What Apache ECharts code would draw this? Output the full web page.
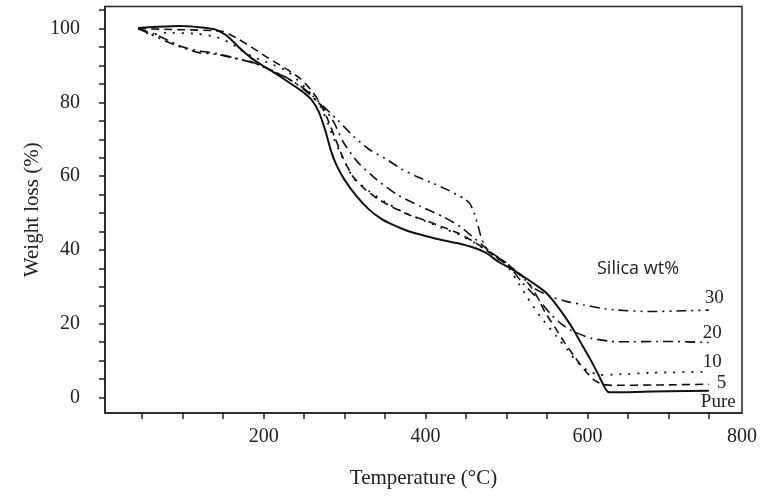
<!DOCTYPE html>
<html>
<head>
<meta charset="utf-8">
<script src="https://cdn.jsdelivr.net/npm/echarts@6/dist/echarts.min.js"></script>
<style>html,body{margin:0;padding:0;background:#fff}#c{width:763px;height:500px}</style>
</head>
<body>
<div id="c"></div>
<script>
// Temperature (°C) vs weight (%)
const pure = [[45,100.2],[70,100.5],[95,100.7],[120,100.4],[140,99.8],[155,98],[170,94.8],[185,92],[200,89.8],[215,87.8],[230,85.6],[245,83.4],[258,81],[268,77.5],[276,72.5],[283,67],[290,63],[300,59],[315,54.5],[330,51],[345,48.5],[360,46.8],[380,45],[400,43.8],[420,42.7],[440,41.8],[460,40.6],[475,39.2],[490,36.8],[505,35],[521,32.8],[537,30.4],[549,28.4],[560,25.6],[572,22],[583,18.3],[594,14],[604,10.2],[614,6],[620,3.3],[625,1.6],[632,1.4],[660,1.5],[700,1.7],[750,1.8]];
const silica5 = [[45,100],[100,99.7],[150,99.2],[170,97],[185,95],[200,92.8],[215,90.8],[230,88.8],[245,86.5],[258,83.5],[268,80.5],[278,76],[288,70.5],[298,65],[310,60],[325,56.5],[340,54],[360,51.5],[380,49.5],[400,48],[420,46.3],[440,44.6],[460,42.2],[475,40],[490,37.5],[505,35.5],[520,32.8],[535,28.5],[548,23],[560,19],[572,14.8],[585,10.8],[597,7.3],[608,4.8],[618,3.6],[630,3.3],[690,3.4],[750,3.6]];
const silica10 = [[45,100],[62,98.4],[80,98.9],[118,98.6],[142,97.7],[160,96],[171,94.3],[185,92.5],[200,91.2],[229,88.5],[254,83.4],[270,78.9],[280,74],[287,70],[299,64.4],[311,59.5],[330,56],[350,53],[375,50],[400,47.8],[420,46],[440,44.3],[460,42],[478,39.5],[490,37.8],[500,36],[512,32],[525,27.4],[542,21.9],[562,16.5],[575,13],[587,9.7],[600,7.3],[616,6.1],[640,6.3],[680,6.7],[750,7.0]];
const silica20 = [[45,100],[65,98.5],[85,96.5],[100,95],[120,94],[143,93.2],[165,92],[190,90.5],[210,88.7],[230,86.5],[250,83.5],[265,80.5],[278,77.5],[287,74.5],[299,69],[317,63.6],[340,59],[365,55],[394,51.8],[422,49],[443,46.3],[458,43.6],[470,41.4],[485,38.5],[500,36.5],[520,31],[540,26.5],[555,22.5],[567,20.1],[579,18.3],[604,16.1],[637,15.1],[700,15.2],[750,14.9]];
const silica30 = [[45,100],[60,98.5],[80,96.5],[100,94.8],[120,93.5],[143,93],[163,92],[185,91],[205,89],[225,87],[245,84.5],[262,81.5],[274,78.9],[291,75.3],[311,70.8],[330,67.3],[353,64.4],[370,62],[389,59.9],[410,58],[427,56.3],[447,54],[455,52.5],[460,50],[464,47.3],[468,44],[472,41.5],[478,39.8],[490,38],[505,35.5],[520,32.5],[535,29.5],[554,27.4],[575,26],[596,25.1],[617,24.2],[637,23.7],[678,23.3],[719,23.5],[750,23.7]];

const seriesNames = ['Pure', '5', '10', '20', '30'];
const xTickValues = [50,100,150,200,250,300,350,400,450,500,550,600,650,700,750];
const xLabelValues = [200,400,600];
const yTickValues = [0,5,10,15,20,25,30,35,40,45,50,55,60,65,70,75,80,85,90,95,100,105];
const yLabelValues = [0,20,40,60,80,100];
const xMin = 4, xMax = 791, yMin = -4.2, yMax = 106;
const legendTitle = 'Silica wt%';

const serif = "'Liberation Serif', 'DejaVu Serif', serif";
const chart = echarts.init(document.getElementById('c'), null, {renderer: 'canvas'});

function mk(name, data, type, width, off) {
  return {
    name: name, type: 'line', data: data, showSymbol: false, symbol: 'none',
    smooth: 0.2, animation: false,
    lineStyle: {color: '#111', width: width, type: type},
    endLabel: {show: true, formatter: name, color: '#222', fontFamily: serif, fontSize: 19, offset: off, distance: 0}
  };
}

chart.setOption({
  animation: false,
  backgroundColor: '#fff',
  grid: {left: 105, right: 21, top: 6.5, bottom: 87, show: true, borderColor: '#222', borderWidth: 1.5},
  xAxis: {
    type: 'value', min: xMin, max: xMax,
    name: 'Temperature (°C)', nameLocation: 'middle', nameGap: 55, nameMoveOverlap: false,
    nameTextStyle: {fontFamily: serif, fontSize: 21, color: '#222'},
    axisLine: {show: true, onZero: false, lineStyle: {color: '#222', width: 1.5}},
    axisTick: {show: true, inside: false, length: 6, customValues: xTickValues, lineStyle: {color: '#222', width: 1.5}},
    axisLabel: {customValues: xLabelValues.concat([xMax]), fontFamily: serif, fontSize: 20, color: '#222', margin: 14,
      formatter: v => v === xMax ? '800' : String(v)},
    splitLine: {show: false}
  },
  yAxis: {
    type: 'value', min: yMin, max: yMax,
    name: 'Weight loss (%)', nameLocation: 'middle', nameGap: 62, nameRotate: 90, nameMoveOverlap: false,
    nameTextStyle: {fontFamily: serif, fontSize: 21, color: '#222'},
    axisLine: {show: true, onZero: false, lineStyle: {color: '#222', width: 1.5}},
    axisTick: {show: true, inside: false, length: 6, customValues: yTickValues, lineStyle: {color: '#222', width: 1.5}},
    axisLabel: {customValues: yLabelValues, fontFamily: serif, fontSize: 20, color: '#222', margin: 25},
    splitLine: {show: false}
  },
  graphic: [{type: 'text', left: 597, top: 260, style: {text: legendTitle, fontFamily: "'Open Sans', 'Noto Sans', sans-serif", fontSize: 18, fill: '#222'}}],
  series: [
    mk(seriesNames[0], pure, 'solid', 2, [-8, 11]),
    mk(seriesNames[1], silica5, [8, 5], 1.6, [8, -1]),
    mk(seriesNames[2], silica10, [2, 7], 1.8, [-6, -10]),
    mk(seriesNames[3], silica20, [10, 5, 2, 5], 1.6, [-6, -10]),
    mk(seriesNames[4], silica30, [10, 5, 2, 5, 2, 5], 1.6, [-4, -12])
  ]
});
</script>
</body>
</html>
